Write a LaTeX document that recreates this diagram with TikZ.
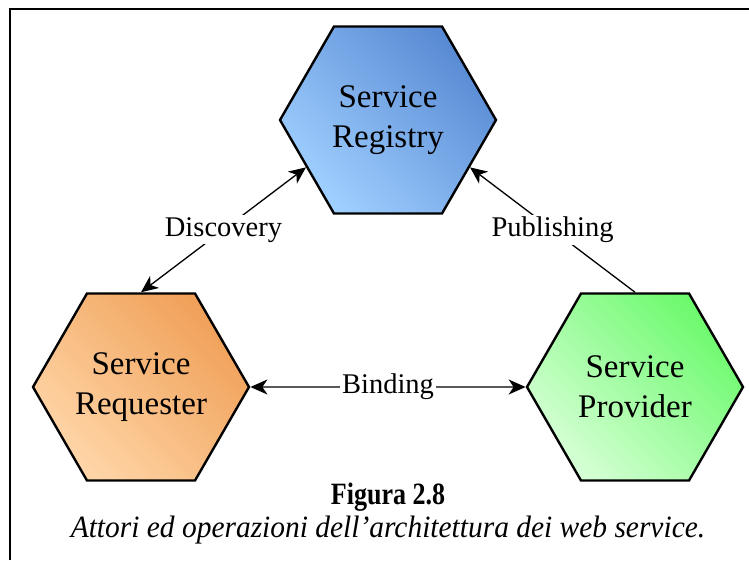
\documentclass[tikz,border=0pt]{standalone}
\usepackage{fontspec}
\setmainfont{Liberation Serif}
\usetikzlibrary{shapes.geometric,arrows.meta}

\definecolor{regdark}{RGB}{88,138,212}
\definecolor{reglight}{RGB}{160,208,255}
\definecolor{reqdark}{RGB}{240,160,88}
\definecolor{reqlight}{RGB}{255,214,168}
\definecolor{provdark}{RGB}{108,250,108}
\definecolor{provlight}{RGB}{214,255,214}

\begin{document}
\begin{tikzpicture}[x=1pt, y=1pt, >={Stealth[length=17pt, width=15pt, inset=5pt]},
  hexa/.style={regular polygon, regular polygon sides=6,
    minimum size=216pt, inner sep=0pt, draw, line width=2.4pt, align=center,
    font=\fontsize{33}{40}\selectfont},
  conn/.style={line width=1.3pt},
  lbl/.style={fill=white, inner sep=2pt, font=\fontsize{28.5}{34}\selectfont}]

  \useasboundingbox (0,0) rectangle (749,560);

  % frame
  \draw[line width=2.5pt] (10,0) -- (10,551) -- (749,551);

  % Actors
  \node[hexa, top color=regdark, bottom color=reglight, shading angle=-45] (reg) at (388,440) {Service\\Registry};
  \node[hexa, top color=reqdark, bottom color=reqlight, shading angle=-45] (req) at (141,173) {Service\\Requester};
  \node[hexa, top color=provdark, bottom color=provlight, shading angle=-45] (prov) at (635,173) {Service\\Provider};

  % Operations
  \draw[conn, <->] (req.north) -- node[lbl] (disc) {Discovery} (reg.210);
  \draw[conn, ->] (prov.north) -- node[lbl] (publ) {Publishing} (reg.330);
  \draw[conn, <->] (req.east) -- node[lbl] (bind) {Binding} (prov.west);

  % Caption
  \node[font=\fontsize{31}{36}\selectfont\bfseries, xscale=0.84] (fig) at (388,63) {Figura 2.8};
  \node[font=\fontsize{31}{36}\selectfont\itshape, xscale=0.95] (cap) at (388,30) {Attori ed operazioni dell’architettura dei web service.};

\end{tikzpicture}
\end{document}
